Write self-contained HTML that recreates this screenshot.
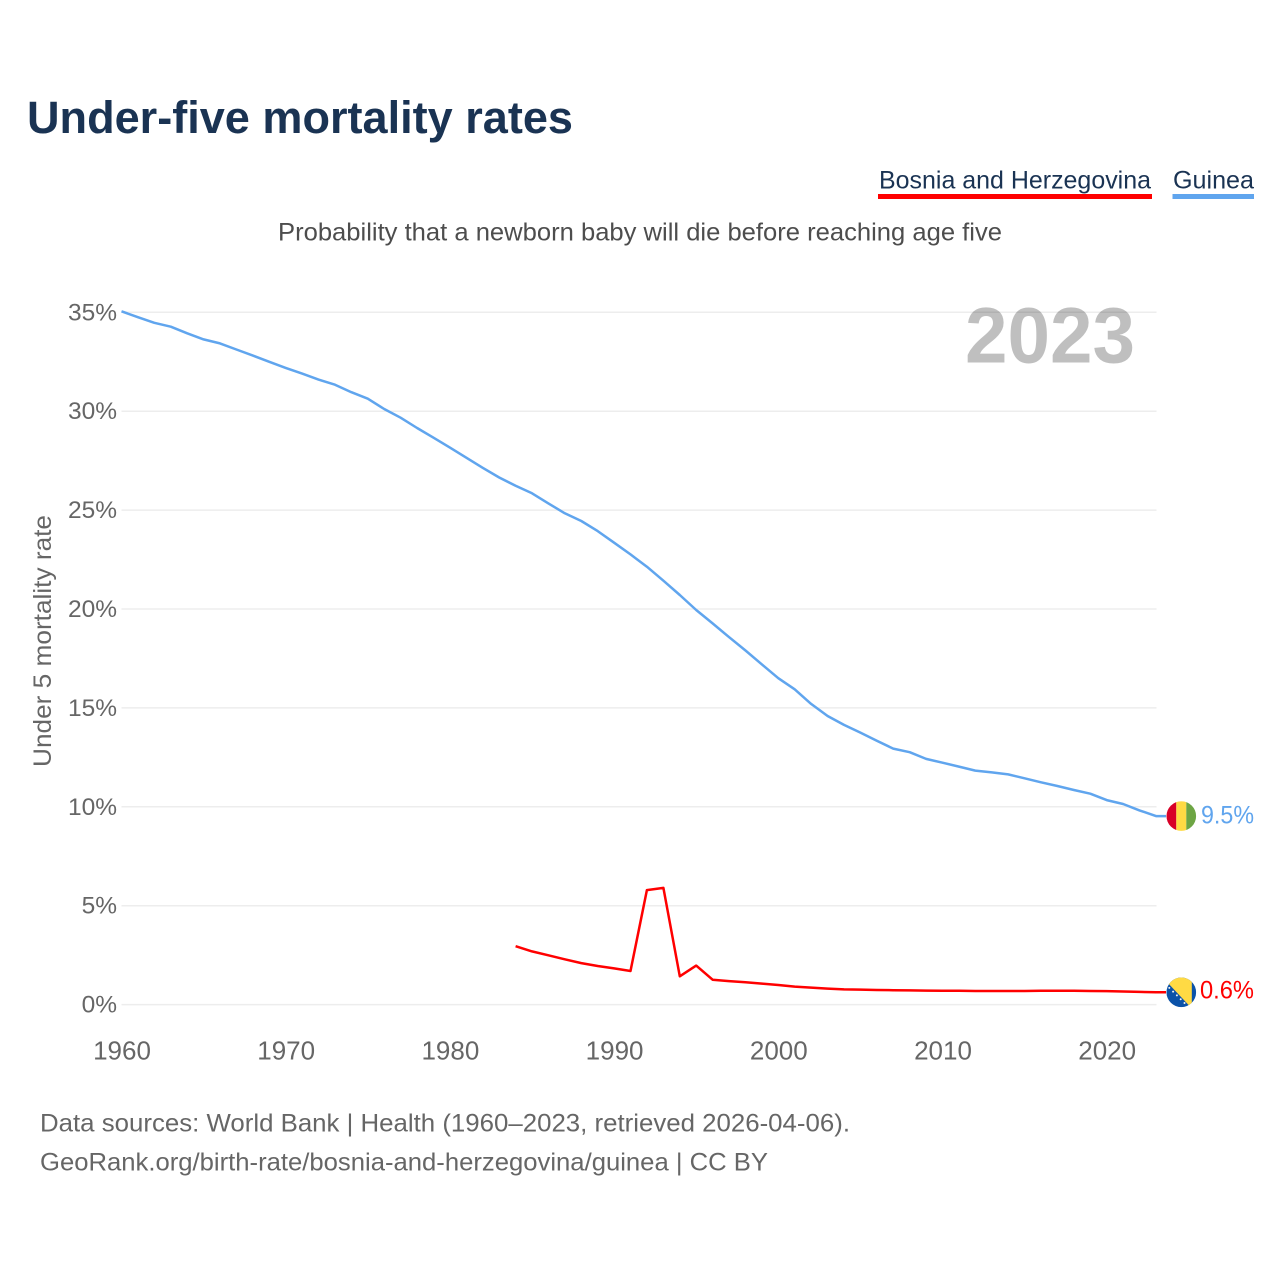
<!DOCTYPE html>
<html lang="en">
<head>
<meta charset="utf-8">
<title>Under-five mortality rates</title>
<style>
html,body{margin:0;padding:0;background:#fff;}
svg{display:block;font-family:"Liberation Sans",sans-serif;}
</style>
</head>
<body>
<svg id="chart" xmlns="http://www.w3.org/2000/svg" width="1280" height="1280" viewBox="0 0 1280 1280">
  <rect width="1280" height="1280" fill="#fff"/>
  <text x="27" y="133" font-size="45" font-weight="700" fill="#1a3353" textLength="546" lengthAdjust="spacingAndGlyphs">Under-five mortality rates</text>
  <g>
    <text x="879" y="188.5" font-size="25" fill="#1a3353" textLength="272" lengthAdjust="spacingAndGlyphs">Bosnia and Herzegovina</text>
    <rect x="878" y="194" width="274" height="5" fill="#ff0000"/>
  </g>
  <g>
    <text x="1173" y="188.5" font-size="25" fill="#1a3353" textLength="81" lengthAdjust="spacingAndGlyphs">Guinea</text>
    <rect x="1172.5" y="194" width="81.5" height="5" fill="#60a5ee"/>
  </g>
  <text x="278" y="240.5" font-size="25" fill="#4d4d4d" textLength="724" lengthAdjust="spacingAndGlyphs">Probability that a newborn baby will die before reaching age five</text>
  <g id="grid"></g>
  <g id="yticks"></g>
  <g id="xticks"></g>
  <text transform="translate(51,641) rotate(-90)" text-anchor="middle" font-size="25" fill="#666" textLength="252" lengthAdjust="spacingAndGlyphs">Under 5 mortality rate</text>
  <text x="1135" y="362.5" text-anchor="end" font-size="79" font-weight="700" fill="#000" fill-opacity="0.25" textLength="170" lengthAdjust="spacingAndGlyphs">2023</text>
  <g id="series"></g>
  <defs>
    <clipPath id="clip-guinea"><circle id="cg" r="14.8"/></clipPath>
    <clipPath id="clip-bosnia"><circle id="cb" r="14.8"/></clipPath>
  </defs>
  <g id="flags"></g>
  <text x="40" y="1131.5" font-size="25" fill="#666" textLength="810" lengthAdjust="spacingAndGlyphs">Data sources: World Bank | Health (1960–2023, retrieved 2026-04-06).</text>
  <text x="40" y="1170.5" font-size="25" fill="#666" textLength="728" lengthAdjust="spacingAndGlyphs">GeoRank.org/birth-rate/bosnia-and-herzegovina/guinea | CC BY</text>
</svg>
<script>
const firstYear = 1960;
const yTickValues = [0, 5, 10, 15, 20, 25, 30, 35];
const xTickYears = [1960, 1970, 1980, 1990, 2000, 2010, 2020];
const guineaValues = [35.05,34.75,34.47,34.27,33.94,33.63,33.43,33.12,32.81,32.5,32.19,31.9,31.6,31.34,30.96,30.63,30.11,29.67,29.15,28.66,28.16,27.65,27.14,26.65,26.23,25.85,25.34,24.84,24.45,23.94,23.35,22.76,22.14,21.43,20.71,19.95,19.27,18.58,17.9,17.2,16.5,15.94,15.2,14.59,14.14,13.75,13.34,12.94,12.76,12.42,12.23,12.03,11.83,11.74,11.64,11.44,11.24,11.05,10.85,10.66,10.34,10.14,9.82,9.53];
const bosniaValues = [null,null,null,null,null,null,null,null,null,null,null,null,null,null,null,null,null,null,null,null,null,null,null,null,2.95,2.69,2.49,2.29,2.1,1.95,1.83,1.7,5.79,5.9,1.43,1.97,1.26,1.19,1.13,1.06,0.99,0.91,0.86,0.81,0.77,0.76,0.74,0.73,0.72,0.71,0.7,0.7,0.69,0.69,0.69,0.69,0.7,0.7,0.7,0.69,0.68,0.66,0.64,0.62];

const NS = 'http://www.w3.org/2000/svg';
const plotLeft = 121.5, plotRight = 1156.5, zeroY = 1004.6, pxPerPercent = 19.78, pxPerYear = 16.42;
const xScale = year => plotLeft + (year - firstYear) * pxPerYear;
const yScale = value => zeroY - value * pxPerPercent;
function make(tag, parent, attrs) {
  const el = document.createElementNS(NS, tag);
  for (const key in attrs) el.setAttribute(key, attrs[key]);
  parent.appendChild(el);
  return el;
}

const grid = document.getElementById('grid');
const yticks = document.getElementById('yticks');
yTickValues.forEach(v => {
  const line = make('line', grid, {x1: plotLeft, x2: plotRight, y1: yScale(v), y2: yScale(v), stroke: '#ededed', 'stroke-width': 1.5});
  
  
  const label = make('text', yticks, {x: 117, y: yScale(v) + 8, 'text-anchor': 'end', 'font-size': 24.5, fill: '#666'});
  label.textContent = v + '%';
  
  
});

const xticks = document.getElementById('xticks');
xTickYears.forEach(y => {
  const label = make('text', xticks, {x: xScale(y) + 0.5, y: 1059.5, 'text-anchor': 'middle', 'font-size': 26, fill: '#666'});
  label.textContent = y;
  
  
});

function drawSeries(values, color, endX) {
  const pts = [];
  values.forEach((v, i) => {
    if (v !== null) pts.push(xScale(firstYear + i).toFixed(1) + ',' + yScale(v).toFixed(1));
  });
  const last = values[values.length - 1];
  pts.push(endX + ',' + yScale(last).toFixed(1));
  return make('polyline', document.getElementById('series'), {points: pts.join(' '), fill: 'none', stroke: color, 'stroke-width': 2.5, 'stroke-linejoin': 'round'});
}
const guineaLine = drawSeries(guineaValues, '#60a5ee', 1166);


const bosniaLine = drawSeries(bosniaValues, '#ff0000', 1166);



const flags = document.getElementById('flags');
const flagX = 1181.3;
const guineaY = yScale(guineaValues[guineaValues.length - 1]);
const bosniaY = yScale(bosniaValues[bosniaValues.length - 1]);
document.getElementById('cg').setAttribute('cx', flagX);
document.getElementById('cg').setAttribute('cy', guineaY);
document.getElementById('cb').setAttribute('cx', flagX);
document.getElementById('cb').setAttribute('cy', bosniaY);

const guineaFlag = make('g', flags, {'clip-path': 'url(#clip-guinea)'});


make('rect', guineaFlag, {x: flagX - 15, y: guineaY - 15, width: 10, height: 30, fill: '#d80027'});
make('rect', guineaFlag, {x: flagX - 5, y: guineaY - 15, width: 10, height: 30, fill: '#ffda44'});
make('rect', guineaFlag, {x: flagX + 5, y: guineaY - 15, width: 10, height: 30, fill: '#6da544'});

const bosniaFlag = make('g', flags, {'clip-path': 'url(#clip-bosnia)'});


make('rect', bosniaFlag, {x: flagX - 15, y: bosniaY - 15, width: 30, height: 30, fill: '#0b52a8'});
make('polygon', bosniaFlag, {points: [[-15,-15],[10.5,-15],[10.5,15],[9.5,15],[-13,-9]].map(p => (flagX + p[0]) + ',' + (bosniaY + p[1])).join(' '), fill: '#ffda44'});
[0, 1, 2, 3, 4, 5].forEach(n => {
  make('circle', bosniaFlag, {cx: flagX - 12 + n * 3.8, cy: bosniaY - 4.5 + n * 3.8, r: 1, fill: '#f2f2f2'});
});

const guineaLabel = make('text', flags, {x: 1254, y: guineaY + 7.5, 'text-anchor': 'end', 'font-size': 25, fill: '#60a5ee', textLength: 53, lengthAdjust: 'spacingAndGlyphs'});
guineaLabel.textContent = guineaValues[guineaValues.length - 1].toFixed(1) + '%';


const bosniaLabel = make('text', flags, {x: 1254, y: bosniaY + 6, 'text-anchor': 'end', 'font-size': 25, fill: '#ff0000', textLength: 54, lengthAdjust: 'spacingAndGlyphs'});
bosniaLabel.textContent = bosniaValues[bosniaValues.length - 1].toFixed(1) + '%';


</script>
</body>
</html>
